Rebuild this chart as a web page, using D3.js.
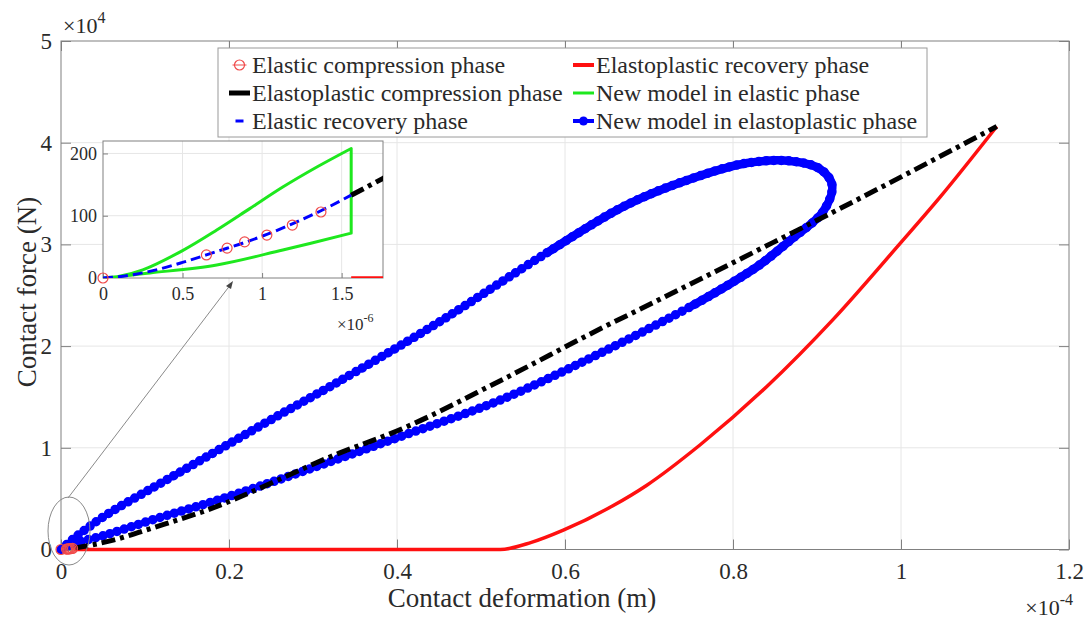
<!DOCTYPE html>
<html>
<head>
<meta charset="utf-8">
<script src="https://cdn.jsdelivr.net/npm/d3@7"></script>
<style>
  body { margin: 0; background: #fff; }
  text { font-family: "Liberation Serif", "Times New Roman", serif; }
</style>
</head>
<body>
<svg id="chart" width="1092" height="628"></svg>
<script>
// ---- Data (SI units: deformation in m, force in N) ----
const mainXTicks = [0, 0.2e-4, 0.4e-4, 0.6e-4, 0.8e-4, 1.0e-4, 1.2e-4];
const mainXTickLabels = ["0", "0.2", "0.4", "0.6", "0.8", "1", "1.2"];
const mainYTicks = [0, 1e4, 2e4, 3e4, 4e4, 5e4];
const mainYTickLabels = ["0", "1", "2", "3", "4", "5"];
const insetXTicks = [0, 0.5e-6, 1.0e-6, 1.5e-6];
const insetXTickLabels = ["0", "0.5", "1", "1.5"];
const insetYTicks = [0, 100, 200];
const insetYTickLabels = ["0", "100", "200"];

// Elastic compression phase (markers)
const elasticCompression = [
  [0, 0], [0.65e-6, 37], [0.78e-6, 48], [0.89e-6, 58],
  [1.03e-6, 69], [1.19e-6, 85], [1.37e-6, 106]
];
// Elastic recovery phase
const elasticRecovery = [
  [1.56e-6, 133], [1.37e-6, 108], [1.19e-6, 87], [1.03e-6, 70], [0.89e-6, 57],
  [0.72e-6, 43], [0.5e-6, 25], [0.3e-6, 11], [0.1e-6, 2], [0, 0]
];
// New model in elastic phase (loading, drop, unloading)
const newModelElastic = [
  [0, 0], [0.09e-6, 2], [0.25e-6, 13], [0.5e-6, 44], [0.715e-6, 77], [0.92e-6, 111],
  [1.13e-6, 146], [1.35e-6, 179], [1.56e-6, 208],
  [1.56e-6, 72], [1.13e-6, 45], [0.715e-6, 21], [0.295e-6, 8], [0.088e-6, 2], [0, 0]
];
// Elastoplastic compression phase
const elastoplasticCompression = [
  [1.56e-6, 133], [1.76e-6, 160], [0.061e-4, 900], [0.112e-4, 2200], [0.168e-4, 3700],
  [0.332e-4, 9500], [0.404e-4, 11800], [0.523e-4, 16600], [0.642e-4, 21700],
  [0.713e-4, 24600], [0.848e-4, 30200], [0.915e-4, 33000], [1.114e-4, 41600]
];
// Elastoplastic recovery phase
const elastoplasticRecovery = [
  [1.56e-6, 0], [0.523e-4, 0], [0.56e-4, 700], [0.598e-4, 1900], [0.657e-4, 4300],
  [0.697e-4, 6300], [0.761e-4, 10300], [0.840e-4, 16000], [0.919e-4, 22600],
  [0.999e-4, 30100], [1.046e-4, 34600], [1.114e-4, 41600]
];
// New model in elastoplastic phase (loading branch, then unloading branch)
const newModelElastoplastic = [
  [0, 0], [0.017e-4, 1200], [0.052e-4, 3300], [0.112e-4, 6200], [0.171e-4, 9000],
  [0.255e-4, 13000], [0.324e-4, 16200], [0.443e-4, 22000], [0.579e-4, 29200],
  [0.674e-4, 33900], [0.752e-4, 36500], [0.817e-4, 38000], [0.868e-4, 38200],
  [0.904e-4, 37400], [0.918e-4, 35800],
  [0.907e-4, 33200], [0.871e-4, 30600], [0.832e-4, 28000], [0.80e-4, 26300],
  [0.752e-4, 24000], [0.642e-4, 19300], [0.523e-4, 14700], [0.404e-4, 11100],
  [0.285e-4, 7600], [0.192e-4, 5000], [0.112e-4, 3000], [0.052e-4, 1400],
  [0.008e-4, 400], [0, 0]
];

const legendItems = [
  { key: "ec", label: "Elastic compression phase" },
  { key: "er2", label: "Elastoplastic recovery phase" },
  { key: "epc", label: "Elastoplastic compression phase" },
  { key: "nme", label: "New model in elastic phase" },
  { key: "er", label: "Elastic recovery phase" },
  { key: "nmep", label: "New model in elastoplastic phase" }
];

// ---- Styles ----
const RED = "#ff1010", BLACK = "#000000", BLUE = "#0000ff", GREEN = "#1ee81e";
const CIRCLE_RED = "#f04a4a";
const AXIS = "#808080", GRID = "#e6e6e6", TEXT = "#2a2a2a";

const svg = d3.select("#chart");

// ---- Main axes ----
const plot = { left: 61, right: 1069, top: 41, bottom: 549.5 };
const x = d3.scaleLinear().domain([0, 1.2e-4]).range([plot.left, plot.right]);
const y = d3.scaleLinear().domain([0, 5e4]).range([plot.bottom, plot.top]);

const gMain = svg.append("g");

// grid
gMain.append("g").selectAll("line").data(mainXTicks.slice(1, -1)).join("line")
  .attr("x1", d => x(d)).attr("x2", d => x(d))
  .attr("y1", plot.top).attr("y2", plot.bottom)
  .attr("stroke", GRID).attr("stroke-width", 1);
gMain.append("g").selectAll("line").data(mainYTicks.slice(1, -1)).join("line")
  .attr("y1", d => y(d)).attr("y2", d => y(d))
  .attr("x1", plot.left).attr("x2", plot.right)
  .attr("stroke", GRID).attr("stroke-width", 1);

function styleAxis(g, fontSize) {
  g.select(".domain").remove();
  g.attr("font-family", null);
  g.selectAll(".tick line").attr("stroke", AXIS);
  g.selectAll(".tick text").attr("fill", TEXT).attr("font-size", fontSize)
    .style("font-family", '"Liberation Serif", "Times New Roman", serif');
}

gMain.append("g").attr("transform", `translate(0,${plot.bottom})`)
  .call(d3.axisBottom(x).tickValues(mainXTicks)
    .tickFormat((d, i) => mainXTickLabels[i]).tickSizeInner(-10).tickSizeOuter(0).tickPadding(13))
  .call(g => styleAxis(g, 23));
gMain.append("g").attr("transform", `translate(${plot.left},0)`)
  .call(d3.axisLeft(y).tickValues(mainYTicks)
    .tickFormat((d, i) => mainYTickLabels[i]).tickSizeInner(-10).tickSizeOuter(0).tickPadding(9))
  .call(g => styleAxis(g, 23));
gMain.append("g").attr("transform", `translate(0,${plot.top})`)
  .call(d3.axisTop(x).tickValues(mainXTicks).tickFormat("").tickSizeInner(-10).tickSizeOuter(0))
  .call(g => styleAxis(g, 23));
gMain.append("g").attr("transform", `translate(${plot.right},0)`)
  .call(d3.axisRight(y).tickValues(mainYTicks).tickFormat("").tickSizeInner(-10).tickSizeOuter(0))
  .call(g => styleAxis(g, 23));

gMain.append("rect")
  .attr("x", plot.left).attr("y", plot.top)
  .attr("width", plot.right - plot.left).attr("height", plot.bottom - plot.top)
  .attr("fill", "none").attr("stroke", AXIS).attr("stroke-width", 1);

// exponent labels
const exp4 = gMain.append("text").attr("x", 63).attr("y", 33).attr("fill", TEXT).attr("font-size", 22);
exp4.append("tspan").text("\u00d710");
exp4.append("tspan").attr("dy", -10).attr("font-size", 16).text("4");
const expm4 = gMain.append("text").attr("x", 1073).attr("y", 615).attr("text-anchor", "end")
  .attr("fill", TEXT).attr("font-size", 22);
expm4.append("tspan").text("\u00d710");
expm4.append("tspan").attr("dy", -10).attr("font-size", 16).text("-4");

// axis titles
gMain.append("text").attr("x", 522).attr("y", 607).attr("text-anchor", "middle")
  .attr("fill", TEXT).attr("font-size", 27).text("Contact deformation (m)");
gMain.append("text").attr("transform", "translate(36,292) rotate(-90)")
  .attr("text-anchor", "middle").attr("fill", TEXT).attr("font-size", 27)
  .text("Contact force (N)");

// ---- Series drawing helpers ----
function drawSeries(g, sx, sy, clipId, withLoop) {
  const lineLin = d3.line().x(d => sx(d[0])).y(d => sy(d[1]));
  const lineMono = d3.line().x(d => sx(d[0])).y(d => sy(d[1])).curve(d3.curveMonotoneX);
  const lineCR = d3.line().x(d => sx(d[0])).y(d => sy(d[1])).curve(d3.curveCatmullRom.alpha(0.5));
  const lg = g.append("g");
  if (clipId) lg.attr("clip-path", `url(#${clipId})`);

  // new model, elastic phase: smooth loading/unloading branches joined by the drop
  const k = newModelElastic.findIndex((d, i) => i > 0 && d[0] === newModelElastic[i - 1][0]);
  const greenPath = lineCR(newModelElastic.slice(0, k)) +
    lineLin(newModelElastic.slice(k - 1, k + 1)).replace(/^M/, "L") +
    lineCR(newModelElastic.slice(k)).replace(/^M/, "L");
  lg.append("path").attr("d", greenPath)
    .attr("fill", "none").attr("stroke", GREEN).attr("stroke-width", 3).attr("stroke-linejoin", "round");

  if (withLoop) {
    // new model, elastoplastic phase: line with dense round markers
    const loopPath = lineCR(newModelElastoplastic);
    lg.append("path").attr("d", loopPath)
      .attr("fill", "none").attr("stroke", BLUE).attr("stroke-width", 4.5);
    // markers crowd into a solid band around the turning point of the loop
    const i0 = newModelElastoplastic.findIndex(d => d[0] >= 0.55e-4);
    let i1 = i0;
    newModelElastoplastic.forEach((d, i) => { if (d[0] >= 0.70e-4) i1 = i; });
    lg.append("path").attr("d", lineCR(newModelElastoplastic.slice(i0, i1 + 1)))
      .attr("fill", "none").attr("stroke", BLUE).attr("stroke-width", 8.5)
      .attr("stroke-linecap", "round");
    lg.append("path").attr("d", loopPath)
      .attr("fill", "none").attr("stroke", BLUE).attr("stroke-width", 9.5)
      .attr("stroke-linecap", "round").attr("stroke-dasharray", "0 7.5");
  }

  // elastoplastic recovery
  lg.append("path").attr("d", lineMono(elastoplasticRecovery))
    .attr("fill", "none").attr("stroke", RED).attr("stroke-width", 3.5);

  // elastoplastic compression
  lg.append("path").attr("d", lineMono(elastoplasticCompression))
    .attr("fill", "none").attr("stroke", BLACK).attr("stroke-width", 5)
    .attr("stroke-dasharray", "14 5 4 5");

  // elastic recovery
  lg.append("path").attr("d", lineMono(elasticRecovery.slice().reverse()))
    .attr("fill", "none").attr("stroke", BLUE).attr("stroke-width", 3)
    .attr("stroke-dasharray", "10 5");

  // elastic compression markers (not clipped)
  g.append("g").selectAll("circle").data(elasticCompression).join("circle")
    .attr("cx", d => sx(d[0])).attr("cy", d => sy(d[1])).attr("r", 5)
    .attr("fill", "none").attr("stroke", CIRCLE_RED).attr("stroke-width", 1.2);
}

drawSeries(gMain, x, y, null, true);

// zoom marker: ellipse at the origin and connector to the inset
gMain.append("ellipse").attr("cx", 69).attr("cy", 531).attr("rx", 21).attr("ry", 34)
  .attr("fill", "none").attr("stroke", "#8a8a8a").attr("stroke-width", 1);
gMain.append("line").attr("x1", 68).attr("y1", 498).attr("x2", 231).attr("y2", 284)
  .attr("stroke", "#8a8a8a").attr("stroke-width", 1);
gMain.append("path").attr("d", "M233,281 L226,286 L231,289 Z").attr("fill", "#444");

// ---- Legend ----
const leg = svg.append("g");
leg.append("rect").attr("x", 218).attr("y", 48).attr("width", 709).attr("height", 89)
  .attr("fill", "#fff").attr("stroke", "#9a9a9a").attr("stroke-width", 1);
const rowY = [65, 93, 121];
const colTok = [[229, 250], [573, 594]];
const colText = [252, 596];
legendItems.forEach((it, i) => {
  const r = Math.floor(i / 2), c = i % 2;
  const cy = rowY[r], [t0, t1] = colTok[c], mid = (t0 + t1) / 2;
  const g = leg.append("g");
  if (it.key === "ec") {
    g.append("line").attr("x1", mid - 7).attr("x2", mid + 7).attr("y1", cy).attr("y2", cy)
      .attr("stroke", CIRCLE_RED).attr("stroke-width", 1);
    g.append("circle").attr("cx", mid).attr("cy", cy).attr("r", 5)
      .attr("fill", "none").attr("stroke", CIRCLE_RED).attr("stroke-width", 1.2);
  } else if (it.key === "er2") {
    g.append("line").attr("x1", t0).attr("x2", t1).attr("y1", cy).attr("y2", cy)
      .attr("stroke", RED).attr("stroke-width", 4);
  } else if (it.key === "epc") {
    g.append("line").attr("x1", t0).attr("x2", t1).attr("y1", cy).attr("y2", cy)
      .attr("stroke", BLACK).attr("stroke-width", 5);
  } else if (it.key === "nme") {
    g.append("line").attr("x1", t0).attr("x2", t1).attr("y1", cy).attr("y2", cy)
      .attr("stroke", GREEN).attr("stroke-width", 3);
  } else if (it.key === "er") {
    g.append("line").attr("x1", mid - 4).attr("x2", mid + 4).attr("y1", cy).attr("y2", cy)
      .attr("stroke", BLUE).attr("stroke-width", 3);
  } else if (it.key === "nmep") {
    g.append("line").attr("x1", t0).attr("x2", t1).attr("y1", cy).attr("y2", cy)
      .attr("stroke", BLUE).attr("stroke-width", 4);
    g.append("circle").attr("cx", mid).attr("cy", cy).attr("r", 4.5).attr("fill", BLUE);
  }
  g.append("text").attr("x", colText[c]).attr("y", cy + 8).attr("fill", TEXT)
    .attr("font-size", 24).text(it.label);
});

// ---- Inset ----
const ins = { left: 103, right: 383, top: 141, bottom: 278 };
const xi = d3.scaleLinear().domain([0, 1.76e-6]).range([ins.left, ins.right]);
const yi = d3.scaleLinear().domain([0, 220]).range([ins.bottom, ins.top]);
const gIns = svg.append("g");
svg.append("defs").append("clipPath").attr("id", "insetClip").append("rect")
  .attr("x", ins.left).attr("y", ins.top)
  .attr("width", ins.right - ins.left).attr("height", ins.bottom - ins.top);

gIns.append("rect").attr("x", ins.left).attr("y", ins.top)
  .attr("width", ins.right - ins.left).attr("height", ins.bottom - ins.top).attr("fill", "#fff");
gIns.append("g").selectAll("line").data(insetXTicks.slice(1)).join("line")
  .attr("x1", d => xi(d)).attr("x2", d => xi(d)).attr("y1", ins.top).attr("y2", ins.bottom)
  .attr("stroke", GRID);
gIns.append("g").selectAll("line").data(insetYTicks.slice(1)).join("line")
  .attr("y1", d => yi(d)).attr("y2", d => yi(d)).attr("x1", ins.left).attr("x2", ins.right)
  .attr("stroke", GRID);

gIns.append("g").attr("transform", `translate(0,${ins.bottom})`)
  .call(d3.axisBottom(xi).tickValues(insetXTicks)
    .tickFormat((d, i) => insetXTickLabels[i]).tickSizeInner(-5).tickSizeOuter(0).tickPadding(9))
  .call(g => styleAxis(g, 18));
gIns.append("g").attr("transform", `translate(${ins.left},0)`)
  .call(d3.axisLeft(yi).tickValues(insetYTicks)
    .tickFormat((d, i) => insetYTickLabels[i]).tickSizeInner(-5).tickSizeOuter(0).tickPadding(6))
  .call(g => styleAxis(g, 18));
gIns.append("rect").attr("x", ins.left).attr("y", ins.top)
  .attr("width", ins.right - ins.left).attr("height", ins.bottom - ins.top)
  .attr("fill", "none").attr("stroke", AXIS);

const expm6 = gIns.append("text").attr("x", 337).attr("y", 330).attr("fill", TEXT).attr("font-size", 17);
expm6.append("tspan").text("\u00d710");
expm6.append("tspan").attr("dy", -8).attr("font-size", 12).text("-6");

drawSeries(gIns, xi, yi, "insetClip", false);
</script>
</body>
</html>
